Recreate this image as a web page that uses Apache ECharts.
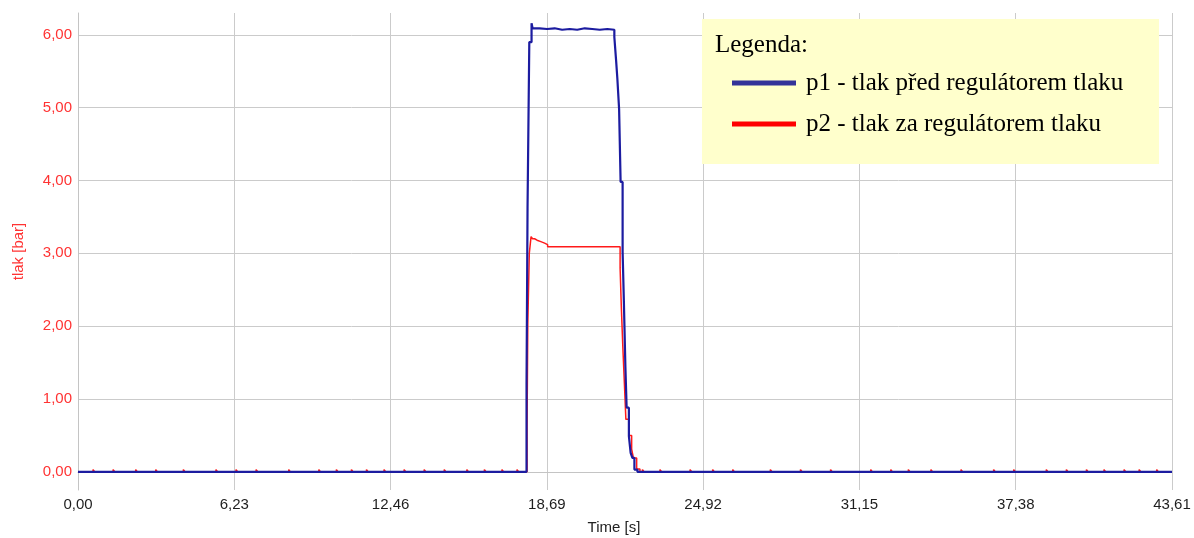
<!DOCTYPE html>
<html>
<head>
<meta charset="utf-8">
<script src="https://cdn.jsdelivr.net/npm/echarts@6.0.0/dist/echarts.min.js"></script>
<style>
html,body{margin:0;padding:0;background:#ffffff;}
#chart{width:1194px;height:538px;}
</style>
</head>
<body>
<div id="chart"></div>
<script>
// x-axis ticks (Time [s])
const xTicks = [0, 6.23, 12.46, 18.69, 24.92, 31.15, 37.38, 43.61];
// y-axis labelled ticks (tlak [bar])
const yTicks = [0, 1, 2, 3, 4, 5, 6];

const seriesNames = ['p1 - tlak před regulátorem tlaku', 'p2 - tlak za regulátorem tlaku'];

// p1 - time [s] and pressure [bar]
const t1 = [0, 17.88, 17.92, 17.99, 18.08, 18.12, 18.40, 18.70, 19.00, 19.30, 19.60, 19.90, 20.20, 20.50, 20.80, 21.10,
            21.38, 21.45, 21.50, 21.57, 21.63, 21.71, 21.76, 21.82, 21.87, 21.96, 22.03, 22.10, 22.18, 22.30, 43.61];
const p1 = [0.00, 1.22, 3.62, 5.90, 6.16, 6.09, 6.08, 6.09, 6.07, 6.08, 6.07, 6.09, 6.08, 6.07, 6.08, 6.07,
            5.97, 5.65, 5.40, 4.98, 3.98, 3.02, 2.34, 1.45, 0.88, 0.49, 0.26, 0.19, 0.03, 0.00, 0.00];

// p2 - time [s] and pressure [bar]
const t2 = [0, 0.60, 0.66, 1.40, 1.46, 2.30, 2.36, 3.10, 3.16, 4.20, 4.26, 5.50, 5.56, 6.30, 6.36, 7.10, 7.16,
            8.40, 8.46, 9.60, 9.66, 10.30, 10.36, 10.90, 10.96, 11.50, 11.56, 12.20, 12.26, 13.00, 13.06,
            13.80, 13.86, 14.60, 14.66, 15.50, 15.56, 16.20, 16.26, 16.90, 16.96, 17.50, 17.56,
            17.90, 17.93, 17.99, 18.06, 18.12, 18.20, 18.30, 18.45, 18.60, 18.72,
            21.61, 21.66, 21.72, 21.78, 21.84, 21.96, 22.07, 22.14, 22.27, 22.40, 22.50, 22.56,
            23.20, 23.26, 24.40, 24.46, 25.30, 25.36, 26.10, 26.16, 27.60, 27.66, 28.80, 28.86, 30.00, 30.06,
            31.60, 31.66, 32.40, 32.46, 33.10, 33.16, 34.00, 34.06, 35.20, 35.26, 36.50, 36.56, 37.30, 37.36,
            38.60, 38.66, 39.40, 39.46, 40.20, 40.26, 40.90, 40.96, 41.70, 41.76, 42.30, 42.36, 43.00, 43.06, 43.61];
const p2 = [0.00, 0.03, 0.00, 0.03, 0.00, 0.03, 0.00, 0.03, 0.00, 0.03, 0.00, 0.03, 0.00, 0.03, 0.00, 0.03, 0.00,
            0.03, 0.00, 0.03, 0.00, 0.03, 0.00, 0.03, 0.00, 0.03, 0.00, 0.03, 0.00, 0.03, 0.00,
            0.03, 0.00, 0.03, 0.00, 0.03, 0.00, 0.03, 0.00, 0.03, 0.00, 0.03, 0.00,
            0.60, 2.02, 3.00, 3.23, 3.20, 3.18, 3.16, 3.14, 3.12, 3.09,
            2.80, 2.25, 1.70, 1.22, 0.72, 0.50, 0.31, 0.19, 0.04, 0.00, 0.03, 0.00,
            0.03, 0.00, 0.03, 0.00, 0.03, 0.00, 0.03, 0.00, 0.03, 0.00, 0.03, 0.00, 0.03, 0.00,
            0.03, 0.00, 0.03, 0.00, 0.03, 0.00, 0.03, 0.00, 0.03, 0.00, 0.03, 0.00, 0.03, 0.00,
            0.03, 0.00, 0.03, 0.00, 0.03, 0.00, 0.03, 0.00, 0.03, 0.00, 0.03, 0.00, 0.03, 0.00, 0.00];

const fmt = v => v.toFixed(2).replace('.', ',');
const isTick = (arr, v) => arr.some(a => Math.abs(a - v) < 1e-6);

// y axis: fine step from -0.25 so min is a multiple of the interval; only whole bars get a visible grid line
const Y_MIN = -0.25, Y_MAX = 6.3, Y_STEP = 0.05;
const GRID = '#cbcbcb';
const yLineColors = [];
for (let i = 0; i < 20; i++) yLineColors.push(i === 5 ? GRID : 'rgba(0,0,0,0)');

const chart = echarts.init(document.getElementById('chart'), null, {renderer: 'canvas'});
chart.setOption({
  animation: false,
  backgroundColor: '#ffffff',
  grid: {left: 78, right: 22, top: 13, bottom: 48, containLabel: false, outerBoundsMode: 'none'},
  xAxis: {
    type: 'value',
    min: xTicks[0], max: xTicks[xTicks.length - 1], interval: xTicks[1] - xTicks[0],
    name: 'Time [s]', nameLocation: 'middle', nameGap: 30,
    nameTextStyle: {color: '#222', fontSize: 15, fontFamily: 'Liberation Sans', padding: [0, 22, 0, 0]},
    axisLine: {show: true, lineStyle: {color: '#c4c4c4', width: 1}},
    axisTick: {show: false},
    axisLabel: {color: '#1e1e1e', fontSize: 15, fontFamily: 'Liberation Sans', margin: 7,
      formatter: v => isTick(xTicks, v) ? fmt(v) : ''},
    splitLine: {show: true, showMinLine: true, showMaxLine: true, lineStyle: {color: GRID, width: 1}}
  },
  yAxis: {
    type: 'value',
    min: Y_MIN, max: Y_MAX, interval: Y_STEP,
    name: 'tlak [bar]', nameLocation: 'middle', nameGap: 52,
    nameTextStyle: {color: '#ff3333', fontSize: 15, fontFamily: 'Liberation Sans'},
    axisLine: {show: true, lineStyle: {color: '#c4c4c4', width: 1}},
    axisTick: {show: false},
    axisLabel: {color: '#ff3333', fontSize: 15, fontFamily: 'Liberation Sans', margin: 6,
      showMinLabel: true, showMaxLabel: true, hideOverlap: false,
      formatter: v => isTick(yTicks, v) ? fmt(v) : ''},
    splitLine: {show: true, lineStyle: {color: yLineColors, width: 1}}
  },
  graphic: [
    {type: 'rect', z: 10, shape: {x: 702, y: 19, width: 457, height: 145}, style: {fill: '#ffffcc'}},
    {type: 'text', z: 30, style: {text: 'Legenda:', x: 715, y: 45, verticalAlign: 'middle',
      font: '25px "Liberation Serif"', fill: '#000'}}
  ],
  legend: {
    z: 30,
    orient: 'vertical', left: 727, top: 65,
    itemWidth: 64, itemHeight: 5, itemGap: 15,
    icon: 'rect',
    textStyle: {fontFamily: 'Liberation Serif', fontSize: 25, color: '#000', lineHeight: 26, padding: [0, 0, 0, 5]},
    data: [
      {name: seriesNames[0], itemStyle: {color: '#333399'}},
      {name: seriesNames[1], itemStyle: {color: '#ff0000'}}
    ]
  },
  series: [
    {
      name: seriesNames[0], type: 'line', step: 'end', showSymbol: false, z: 4,
      color: '#1c1ca0',
      lineStyle: {color: '#1c1ca0', width: 2.2},
      data: t1.map((t, i) => [t, p1[i]])
    },
    {
      name: seriesNames[1], type: 'line', step: 'end', showSymbol: false, z: 3,
      color: '#ff0000',
      lineStyle: {color: '#ff1a1a', width: 1.5},
      data: t2.map((t, i) => [t, p2[i]])
    }
  ]
});
</script>
</body>
</html>
